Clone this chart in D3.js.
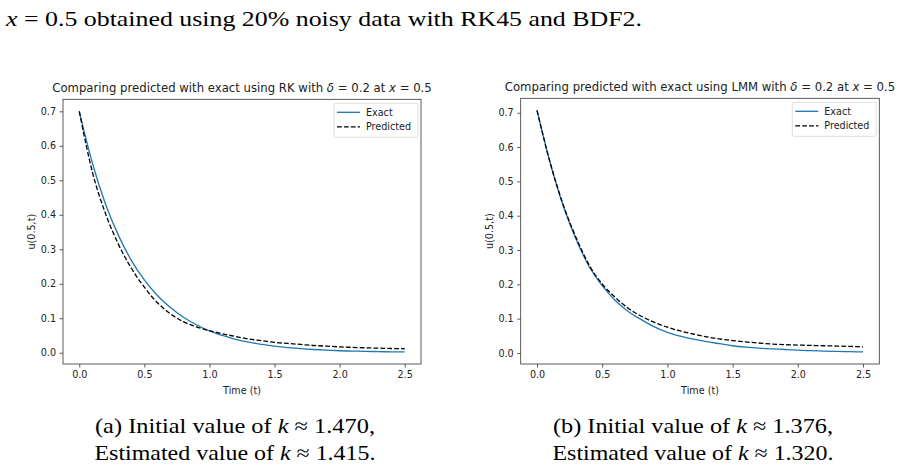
<!DOCTYPE html>
<html>
<head>
<meta charset="UTF-8">
<script src="https://cdnjs.cloudflare.com/ajax/libs/d3/7.8.5/d3.min.js"></script>
<style>
  body { margin: 0; background: #fff; }
  svg text { fill: #222; }
  .tick-lbl { font-family: "DejaVu Sans"; font-size: 9.6px; }
  .ttl { font-family: "DejaVu Sans"; font-size: 11.7px; }
  .tex { font-family: "Liberation Serif", "DejaVu Serif"; font-size: 21px; fill: #000; }
</style>
</head>
<body>
<div id="fig"></div>
<script>
// time samples (t)
var tVals = [0.0,0.1,0.2,0.3,0.4,0.5,0.6,0.7,0.8,0.9,1.0,1.1,1.2,1.3,1.4,1.5,1.6,1.7,1.8,1.9,2.0,2.1,2.2,2.3,2.4,2.5];

// (a) RK
var exactRK = [0.700,0.551,0.433,0.341,0.268,0.211,0.166,0.131,0.103,0.081,0.063,0.050,0.039,0.031,0.024,0.019,0.015,0.012,0.0093,0.0073,0.0058,0.0047,0.0038,0.0031,0.0026,0.0022];
var predRK  = [0.700,0.525,0.405,0.315,0.245,0.190,0.145,0.113,0.090,0.075,0.064,0.055,0.047,0.040,0.035,0.030,0.027,0.024,0.021,0.019,0.017,0.0155,0.0143,0.0132,0.0122,0.0115];

// (b) LMM
var exactLMM = [0.707,0.555,0.430,0.331,0.252,0.196,0.153,0.121,0.097,0.076,0.060,0.049,0.040,0.033,0.027,0.021,0.017,0.014,0.012,0.010,0.008,0.0066,0.0055,0.0045,0.0037,0.003];
var predLMM  = [0.707,0.556,0.433,0.336,0.256,0.201,0.162,0.130,0.107,0.089,0.075,0.064,0.055,0.047,0.041,0.036,0.032,0.029,0.026,0.024,0.023,0.022,0.021,0.020,0.019,0.018];

var xTicks = [0.0,0.5,1.0,1.5,2.0,2.5];
var yTicks = [0.0,0.1,0.2,0.3,0.4,0.5,0.6,0.7];
var seriesNames = ["Exact","Predicted"];

var W = 905, H = 467;

var svg = d3.select("#fig").append("svg")
  .attr("width", W).attr("height", H);

svg.append("rect").attr("width", W).attr("height", H).attr("fill", "#fff");

// stretched serif text so that it spans the same width as the LaTeX original
function tex(x, y, html, len, anchor) {
  return svg.append("text").attr("class", "tex")
    .attr("x", x).attr("y", y)
    .attr("text-anchor", anchor || "start")
    .attr("textLength", len).attr("lengthAdjust", "spacingAndGlyphs")
    .html(html);
}

// header line from the paper
tex(6, 26, '<tspan font-style="italic">x</tspan> = 0.5 obtained using 20% noisy data with RK45 and BDF2.', 636);

function panel(o) {
  var g = svg.append("g");
  var pad = 0.05;
  var xs = d3.scaleLinear().domain([-0.125, 2.625]).range([o.left, o.right]);
  var lo = d3.min(o.exact.concat(o.pred)), hi = d3.max(o.exact.concat(o.pred));
  var sp = hi - lo;
  var ys = d3.scaleLinear().domain([lo - sp * pad, hi + sp * pad]).range([o.bottom, o.top]);

  // axes
  var xa = g.append("g").attr("transform", "translate(0," + o.bottom + ")")
    .call(d3.axisBottom(xs).tickValues(xTicks).tickFormat(d3.format(".1f")).tickSize(3.5).tickPadding(4));
  var ya = g.append("g").attr("transform", "translate(" + o.left + ",0)")
    .call(d3.axisLeft(ys).tickValues(yTicks).tickFormat(d3.format(".1f")).tickSize(3.5).tickPadding(3.5));
  [xa, ya].forEach(function(a) {
    a.select(".domain").remove();
    a.selectAll(".tick line").attr("stroke", "#333").attr("stroke-width", 0.8);
    a.selectAll(".tick text").attr("class", "tick-lbl").attr("fill", "#222");
  });

  // curves
  var line = d3.line()
    .x(function(d) { return xs(d[0]); })
    .y(function(d) { return ys(d[1]); })
    .curve(d3.curveMonotoneX);

  g.append("path")
    .datum(tVals.map(function(t, i) { return [t, o.exact[i]]; }))
    .attr("d", line).attr("fill", "none")
    .attr("stroke", "#1f77b4").attr("stroke-width", 1.3);

  g.append("path")
    .datum(tVals.map(function(t, i) { return [t, o.pred[i]]; }))
    .attr("d", line).attr("fill", "none")
    .attr("stroke", "#000").attr("stroke-width", 1.3)
    .attr("stroke-dasharray", "4.8,2.1");

  // frame
  g.append("rect")
    .attr("x", o.left).attr("y", o.top)
    .attr("width", o.right - o.left).attr("height", o.bottom - o.top)
    .attr("fill", "none").attr("stroke", "#333").attr("stroke-width", 0.8);

  // title
  g.append("text").attr("class", "ttl")
    .attr("x", (o.left + o.right) / 2).attr("y", o.top - 7)
    .attr("text-anchor", "middle")
    .html("Comparing predicted with exact using " + o.method +
          ' with <tspan font-style="italic">δ</tspan> = 0.2 at <tspan font-style="italic">x</tspan> = 0.5');

  // axis labels
  g.append("text").attr("class", "tick-lbl")
    .attr("x", (o.left + o.right) / 2).attr("y", o.bottom + 30)
    .attr("text-anchor", "middle").text("Time (t)");
  g.append("text").attr("class", "tick-lbl")
    .attr("transform", "translate(" + (o.left - 28) + "," + ((o.top + o.bottom) / 2) + ") rotate(-90)")
    .attr("text-anchor", "middle").text("u(0.5,t)");

  // legend
  var lx = o.right - 87, ly = o.top + 4;
  var lg = g.append("g").attr("transform", "translate(" + lx + "," + ly + ")");
  lg.append("rect").attr("width", 84).attr("height", 34).attr("rx", 2)
    .attr("fill", "#fff").attr("fill-opacity", 0.8)
    .attr("stroke", "#d6d6d6").attr("stroke-width", 0.8);
  seriesNames.forEach(function(nm, i) {
    var yy = 9 + i * 14.6;
    lg.append("line").attr("x1", 3).attr("x2", 26).attr("y1", yy).attr("y2", yy)
      .attr("stroke", i === 0 ? "#1f77b4" : "#000").attr("stroke-width", 1.3)
      .attr("stroke-dasharray", i === 0 ? null : "4.8,2.1");
    lg.append("text").attr("class", "tick-lbl")
      .attr("x", 32).attr("y", yy + 3.5).text(nm);
  });

  // caption
  tex(o.capX, 433, o.cap1[0] + '<tspan font-style="italic">k</tspan> ≈ ' + o.cap1[1], 280, "middle");
  tex(o.capX, 460, 'Estimated value of <tspan font-style="italic">k</tspan> ≈ ' + o.cap2, 281, "middle");
}

panel({
  left: 63, right: 421, top: 99.3, bottom: 364,
  exact: exactRK, pred: predRK, method: "RK",
  capX: 235, cap1: ["(a) Initial value of ", "1.470,"], cap2: "1.415."
});

panel({
  left: 520.7, right: 879.3, top: 98.3, bottom: 364,
  exact: exactLMM, pred: predLMM, method: "LMM",
  capX: 693, cap1: ["(b) Initial value of ", "1.376,"], cap2: "1.320."
});
</script>
</body>
</html>
